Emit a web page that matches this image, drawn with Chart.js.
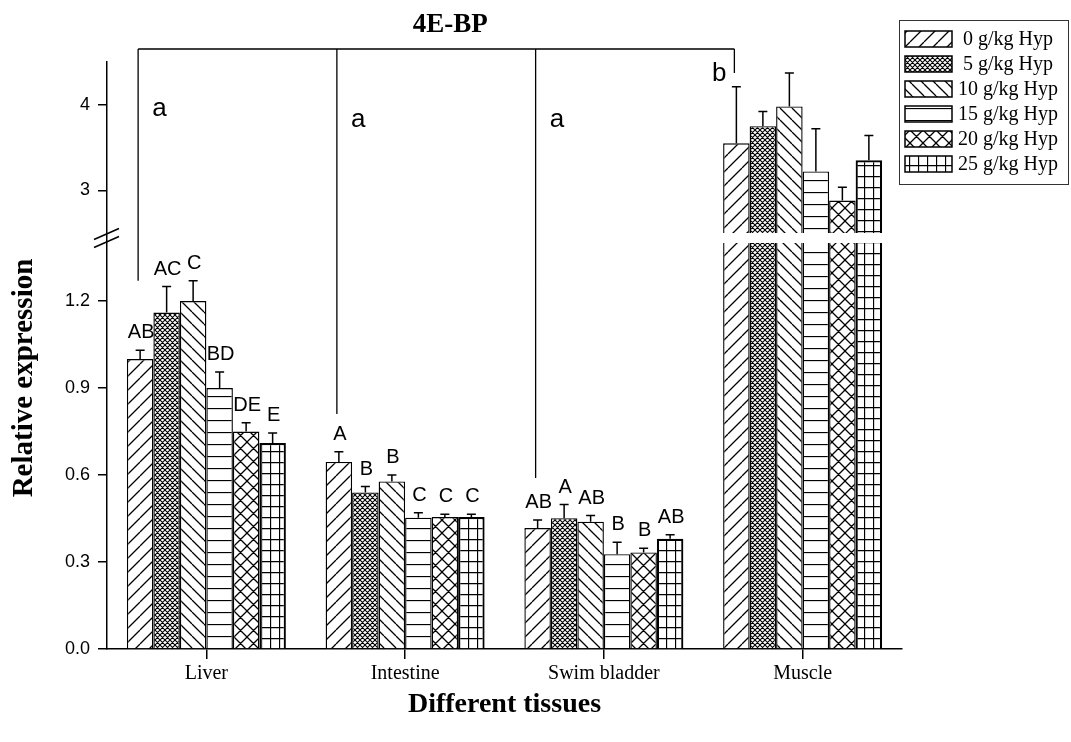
<!DOCTYPE html>
<html>
<head>
<meta charset="utf-8">
<script src="https://cdn.jsdelivr.net/npm/chart.js@4"></script>
<style>
  body { margin: 0; background: #fff; }
  canvas { display: block; }
</style>
</head>
<body>
<canvas id="chart" width="1071" height="742"></canvas>
<script>
// --- Data ---
const tissues = ['Liver', 'Intestine', 'Swim bladder', 'Muscle'];
const doses = ['0 g/kg Hyp', '5 g/kg Hyp', '10 g/kg Hyp', '15 g/kg Hyp', '20 g/kg Hyp', '25 g/kg Hyp'];

// mean relative expression per dose (Liver, Intestine, Swim bladder, Muscle)
const hyp0 = [1.00, 0.645, 0.417, 3.55];
const hyp5 = [1.16, 0.540, 0.451, 3.75];
const hyp10 = [1.20, 0.578, 0.439, 3.98];
const hyp15 = [0.90, 0.453, 0.327, 3.22];
const hyp20 = [0.75, 0.455, 0.333, 2.88];
const hyp25 = [0.71, 0.455, 0.380, 3.35];

// upper error (SD)
const err0 = [0.03, 0.035, 0.028, 0.66];
const err5 = [0.09, 0.020, 0.047, 0.17];
const err10 = [0.07, 0.022, 0.021, 0.39];
const err15 = [0.055, 0.017, 0.041, 0.50];
const err20 = [0.03, 0.010, 0.014, 0.155];
const err25 = [0.035, 0.010, 0.014, 0.29];

// significance letters over each bar
const let0 = ['AB', 'A', 'AB', ''];
const let5 = ['AC', 'B', 'A', ''];
const let10 = ['C', 'B', 'AB', ''];
const let15 = ['BD', 'C', 'B', ''];
const let20 = ['DE', 'C', 'B', ''];
const let25 = ['E', 'C', 'AB', ''];

// tissue comparison bracket
const groupLetters = ['a', 'a', 'a', 'b'];
const bracketEnds = [1.27, 0.81, 0.59, 4.37];
const groupLetterY = [3.87, 3.74, 3.74, 4.28];

// y axis with a break between 1.4 and 2.5
const yTicks = [0, 0.3, 0.6, 0.9, 1.2, 3, 4];
const yMax = 4.5;
const breakFrom = 1.4;
const breakTo = 2.5;

const seriesValues = [hyp0, hyp5, hyp10, hyp15, hyp20, hyp25];
const seriesErrors = [err0, err5, err10, err15, err20, err25];
const seriesLetters = [let0, let5, let10, let15, let20, let25];

// --- Broken linear scale ---
class BrokenScale extends Chart.LinearScale {
    toDecimal(v) {
        const b = this.options.brk;
        const lowEnd = b.lowFrac;
        const gapEnd = b.lowFrac + b.gapFrac;
        if (v <= b.from) return (v - this.min) / (b.from - this.min) * lowEnd;
        if (v < b.to) return lowEnd + (v - b.from) / (b.to - b.from) * b.gapFrac;
        return gapEnd + (v - b.to) / (this.max - b.to) * (1 - gapEnd);
    }
    getPixelForValue(v) {
        return this.getPixelForDecimal(this.toDecimal(v));
    }
    getValueForPixel(p) {
        const b = this.options.brk;
        const d = this.getDecimalForPixel(p);
        const lowEnd = b.lowFrac;
        const gapEnd = b.lowFrac + b.gapFrac;
        if (d <= lowEnd) return this.min + d / lowEnd * (b.from - this.min);
        if (d < gapEnd) return b.from + (d - lowEnd) / b.gapFrac * (b.to - b.from);
        return b.to + (d - gapEnd) / (1 - gapEnd) * (this.max - b.to);
    }
}
BrokenScale.id = 'broken';
BrokenScale.defaults = Chart.LinearScale.defaults;
Chart.register(BrokenScale);

// --- Fill patterns ---
function makePattern(kind) {
    const sizes = { fwd: [14, 14], dense: [5, 5], back: [12, 12], horiz: [12, 12], cross: [13, 13], grid: [9, 11] };
    const [w, h] = sizes[kind];
    const c = document.createElement('canvas');
    c.width = w; c.height = h;
    const g = c.getContext('2d');
    g.fillStyle = '#fff';
    g.fillRect(0, 0, w, h);
    g.strokeStyle = '#000';
    g.lineWidth = kind === 'dense' ? 1.1 : 1.3;
    g.beginPath();
    if (kind === 'fwd' || kind === 'dense' || kind === 'cross') {
        for (const k of [-1, 0, 1]) { g.moveTo(k * w, h); g.lineTo(k * w + w, 0); }
    }
    if (kind === 'back' || kind === 'dense' || kind === 'cross') {
        for (const k of [-1, 0, 1]) { g.moveTo(k * w, 0); g.lineTo(k * w + w, h); }
    }
    if (kind === 'horiz' || kind === 'grid') { g.moveTo(0, 0.5); g.lineTo(w, 0.5); }
    if (kind === 'grid') { g.moveTo(0.5, 0); g.lineTo(0.5, h); }
    g.stroke();
    return g.createPattern(c, 'repeat');
}
const patterns = ['fwd', 'dense', 'back', 'horiz', 'cross', 'grid'].map(makePattern);

// --- Plugins ---
const serif = "'Liberation Serif', 'Times New Roman', serif";
const sans = "'Liberation Sans', Arial, sans-serif";

const breakPlugin = {
    id: 'breakGap',
    afterDatasetsDraw(chart) {
        const { ctx, chartArea, scales: { y } } = chart;
        const yA = y.getPixelForValue(breakTo);
        const yB = y.getPixelForValue(breakFrom);
        ctx.save();
        ctx.fillStyle = '#fff';
        ctx.fillRect(chartArea.left + 1, yA, chartArea.right - chartArea.left, yB - yA);
        // break marks on the axis
        ctx.strokeStyle = '#000';
        ctx.lineWidth = 1.5;
        ctx.beginPath();
        for (const py of [yA + 1, yB - 1]) {
            ctx.moveTo(chartArea.left - 13, py + 5.5);
            ctx.lineTo(chartArea.left + 12, py - 5.5);
        }
        ctx.stroke();

        // error bars + letters
        ctx.lineWidth = 1.5;
        chart.data.datasets.forEach((ds, di) => {
            const meta = chart.getDatasetMeta(di);
            meta.data.forEach((bar, i) => {
                const top = y.getPixelForValue(ds.data[i] + seriesErrors[di][i]);
                ctx.beginPath();
                ctx.moveTo(bar.x, bar.y);
                ctx.lineTo(bar.x, top);
                ctx.moveTo(bar.x - 4.5, top);
                ctx.lineTo(bar.x + 4.5, top);
                ctx.stroke();
                const txt = seriesLetters[di][i];
                if (txt) {
                    ctx.fillStyle = '#000';
                    ctx.font = '20px ' + sans;
                    ctx.textAlign = 'center';
                    ctx.textBaseline = 'alphabetic';
                    ctx.fillText(txt, bar.x + 1, top - 12);
                }
            });
        });
        ctx.restore();
    }
};

const bracketPlugin = {
    id: 'bracket',
    afterDraw(chart) {
        const { ctx, chartArea, scales: { y } } = chart;
        const first = chart.getDatasetMeta(0).data;
        const lineY = chartArea.top - 13;
        ctx.save();
        ctx.strokeStyle = '#000';
        ctx.lineWidth = 1.3;
        ctx.beginPath();
        ctx.moveTo(first[0].x - 2, lineY);
        ctx.lineTo(first[first.length - 1].x - 2, lineY);
        first.forEach((bar, i) => {
            ctx.moveTo(bar.x - 2, lineY);
            ctx.lineTo(bar.x - 2, y.getPixelForValue(bracketEnds[i]));
        });
        ctx.stroke();

        ctx.fillStyle = '#000';
        ctx.font = '26px ' + sans;
        ctx.textBaseline = 'alphabetic';
        first.forEach((bar, i) => {
            const isLast = i === first.length - 1;
            ctx.textAlign = isLast ? 'right' : 'left';
            ctx.fillText(groupLetters[i], isLast ? bar.x - 10 : bar.x + 12, y.getPixelForValue(groupLetterY[i]));
        });

        ctx.font = 'bold 27px ' + serif;
        ctx.textAlign = 'center';
        const mid = (first[0].x + first[first.length - 1].x) / 2;
        ctx.fillText('4E-BP', mid + 12, 32);

        // y axis title
        ctx.save();
        ctx.translate(25, 378);
        ctx.rotate(-Math.PI / 2);
        ctx.font = 'bold 29px ' + serif;
        ctx.textBaseline = 'middle';
        ctx.fillText('Relative expression', 0, 0);
        ctx.restore();
        ctx.restore();
    }
};

const legendPlugin = {
    id: 'boxLegend',
    afterDraw(chart) {
        const { ctx } = chart;
        const x0 = 899, y0 = 20, w = 169, h = 164;
        ctx.save();
        ctx.strokeStyle = '#333';
        ctx.lineWidth = 1;
        ctx.strokeRect(x0 + 0.5, y0 + 0.5, w, h);
        ctx.font = '20px ' + serif;
        ctx.textAlign = 'left';
        ctx.textBaseline = 'middle';
        doses.forEach((label, i) => {
            const cy = 39 + i * 25;
            ctx.fillStyle = patterns[i];
            ctx.fillRect(905, cy - 8, 47, 16);
            ctx.strokeStyle = '#000';
            ctx.lineWidth = 1.5;
            ctx.strokeRect(905, cy - 8, 47, 16);
            ctx.fillStyle = '#000';
            const txt = label.length < 11 ? ' ' + label : label;
            ctx.fillText(txt, 958, cy + 1);
        });
        ctx.restore();
    }
};

// --- Chart ---
Chart.defaults.font.family = sans;
Chart.defaults.color = '#000';

const datasets = seriesValues.map((vals, i) => ({
    label: doses[i],
    data: vals,
    backgroundColor: patterns[i],
    borderColor: '#000',
    borderWidth: i === 5 ? 2.2 : 1.4,
    borderSkipped: 'bottom',
    categoryPercentage: 0.8,
    barPercentage: 1.0
}));

new Chart(document.getElementById('chart'), {
    type: 'bar',
    data: { labels: tissues, datasets: datasets },
    options: {
        responsive: false,
        animation: false,
        layout: { padding: { top: 62, right: 169, left: 0, bottom: 0 } },
        plugins: {
            legend: { display: false },
            tooltip: { enabled: false }
        },
        scales: {
            x: {
                offset: true,
                grid: { display: true, drawOnChartArea: false, offset: false, tickLength: 10, color: '#000', lineWidth: 1.5 },
                border: { display: true, color: '#000', width: 1.5 },
                ticks: { font: { family: serif, size: 20 }, color: '#000', padding: 3 },
                title: { display: true, text: 'Different tissues', font: { family: serif, size: 28, weight: 'bold' }, color: '#000', padding: { top: 0, bottom: 20 } },
                afterFit: (axis) => { axis.height = 93; }
            },
            y: {
                type: 'broken',
                min: 0,
                max: yMax,
                brk: { from: breakFrom, to: breakTo, lowFrac: 406 / 587, gapFrac: 10 / 587 },
                grid: { display: true, drawOnChartArea: false, tickLength: 9, color: '#000', lineWidth: 1.5 },
                border: { display: true, color: '#000', width: 1.5 },
                ticks: {
                    autoSkip: false,
                    font: { size: 18 },
                    color: '#000',
                    padding: 8,
                    callback: (v) => v < breakFrom ? v.toFixed(1) : String(v)
                },
                afterBuildTicks: (axis) => { axis.ticks = yTicks.map(v => ({ value: v })); },
                title: { display: false },
                afterFit: (axis) => { axis.width = 107; }
            }
        }
    },
    plugins: [breakPlugin, bracketPlugin, legendPlugin]
});
</script>
</body>
</html>
